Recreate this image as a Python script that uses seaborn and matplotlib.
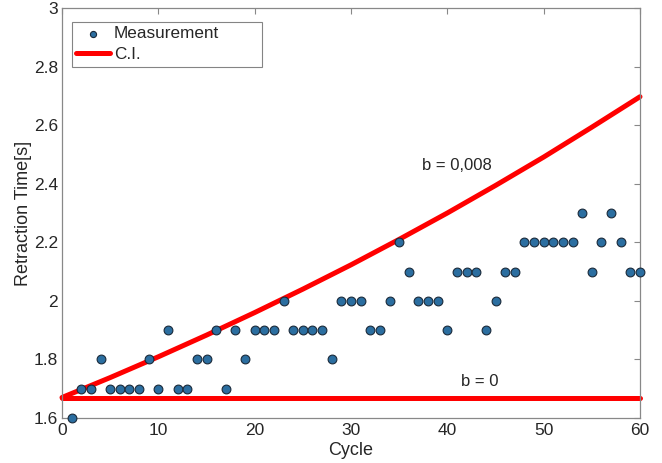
import matplotlib
matplotlib.use("Agg")
import matplotlib.pyplot as plt
import seaborn as sns
import pandas as pd

cycles = list(range(1, 61))
retraction = [1.6, 1.7, 1.7, 1.8, 1.7, 1.7, 1.7, 1.7, 1.8, 1.7,
              1.9, 1.7, 1.7, 1.8, 1.8, 1.9, 1.7, 1.9, 1.8, 1.9,
              1.9, 1.9, 2.0, 1.9, 1.9, 1.9, 1.9, 1.8, 2.0, 2.0,
              2.0, 1.9, 1.9, 2.0, 2.2, 2.1, 2.0, 2.0, 2.0, 1.9,
              2.1, 2.1, 2.1, 1.9, 2.0, 2.1, 2.1, 2.2, 2.2, 2.2,
              2.2, 2.2, 2.2, 2.3, 2.1, 2.2, 2.3, 2.2, 2.1, 2.1]

ci_x = [0, 5, 10, 15, 20, 25, 30, 35, 40, 45, 50, 55, 60]
ci_upper = [1.67, 1.738, 1.809, 1.883, 1.960, 2.040, 2.123, 2.210, 2.300, 2.394, 2.491, 2.593, 2.697]
ci_lower = [1.67] * len(ci_x)

xticks = [0, 10, 20, 30, 40, 50, 60]
yticks = [1.6, 1.8, 2.0, 2.2, 2.4, 2.6, 2.8, 3.0]
ytick_labels = ["1.6", "1.8", "2", "2.2", "2.4", "2.6", "2.8", "3"]

sns.set_style("white")
plt.rcParams['font.family'] = ['Liberation Sans', 'DejaVu Sans']

fig = plt.figure(figsize=(6.62, 4.63), dpi=100)
ax = fig.add_axes([62/662, 1-418/463, (640-62)/662, (418-8)/463])

meas = pd.DataFrame({"Cycle": cycles, "Retraction": retraction})
ci_df = pd.DataFrame({"x": ci_x, "upper": ci_upper, "lower": ci_lower})

sns.lineplot(data=ci_df, x="x", y="upper", ax=ax, color="#ff0000", linewidth=3.6,
             label="C.I.", zorder=2, clip_on=False)
sns.lineplot(data=ci_df, x="x", y="lower", ax=ax, color="#ff0000", linewidth=3.6,
             zorder=2, clip_on=False)
sns.scatterplot(data=meas, x="Cycle", y="Retraction", ax=ax, color="#2b6ea0",
                edgecolor="#1a2a3a", linewidth=0.8, s=40, label="Measurement",
                zorder=3, clip_on=False)

ax.set_xlim(0, 60)
ax.set_ylim(1.6, 3.0)
ax.set_xticks(xticks)
ax.set_yticks(yticks)
ax.set_yticklabels(ytick_labels)
ax.tick_params(direction="in", length=4, top=True, right=True, labelsize=12.5,
               color="#888888", width=0.8)
ax.tick_params(axis="x", pad=3.5)
ax.tick_params(axis="y", pad=3)
for s in ax.spines.values():
    s.set_color("#888888")
    s.set_linewidth(0.9)

ax.set_xlabel("Cycle", fontsize=13, labelpad=3)
ax.set_ylabel("Retraction Time[s]", fontsize=13, labelpad=1.5)

ax.text(41, 2.462, "b = 0,008", fontsize=12, ha="center", va="center")
ax.text(43.4, 1.724, "b = 0", fontsize=12, ha="center", va="center")

handles, labels = ax.get_legend_handles_labels()
order = [labels.index("Measurement"), labels.index("C.I.")]
x0 = (72 - 62) / 578
w = (262 - 72) / 578
y0 = (418 - 68) / 410
h = (68 - 22) / 410
leg = ax.legend([handles[i] for i in order], [labels[i] for i in order],
                loc="upper left", bbox_to_anchor=(x0, y0, w, h), mode="expand",
                fontsize=12.3, frameon=True, fancybox=False, edgecolor="#666666",
                borderaxespad=0.0, handlelength=2.0, handletextpad=0.2,
                labelspacing=0.35, borderpad=0.25, markerscale=0.7)
leg.get_frame().set_linewidth(0.8)

fig.savefig("out.png", dpi=100)
